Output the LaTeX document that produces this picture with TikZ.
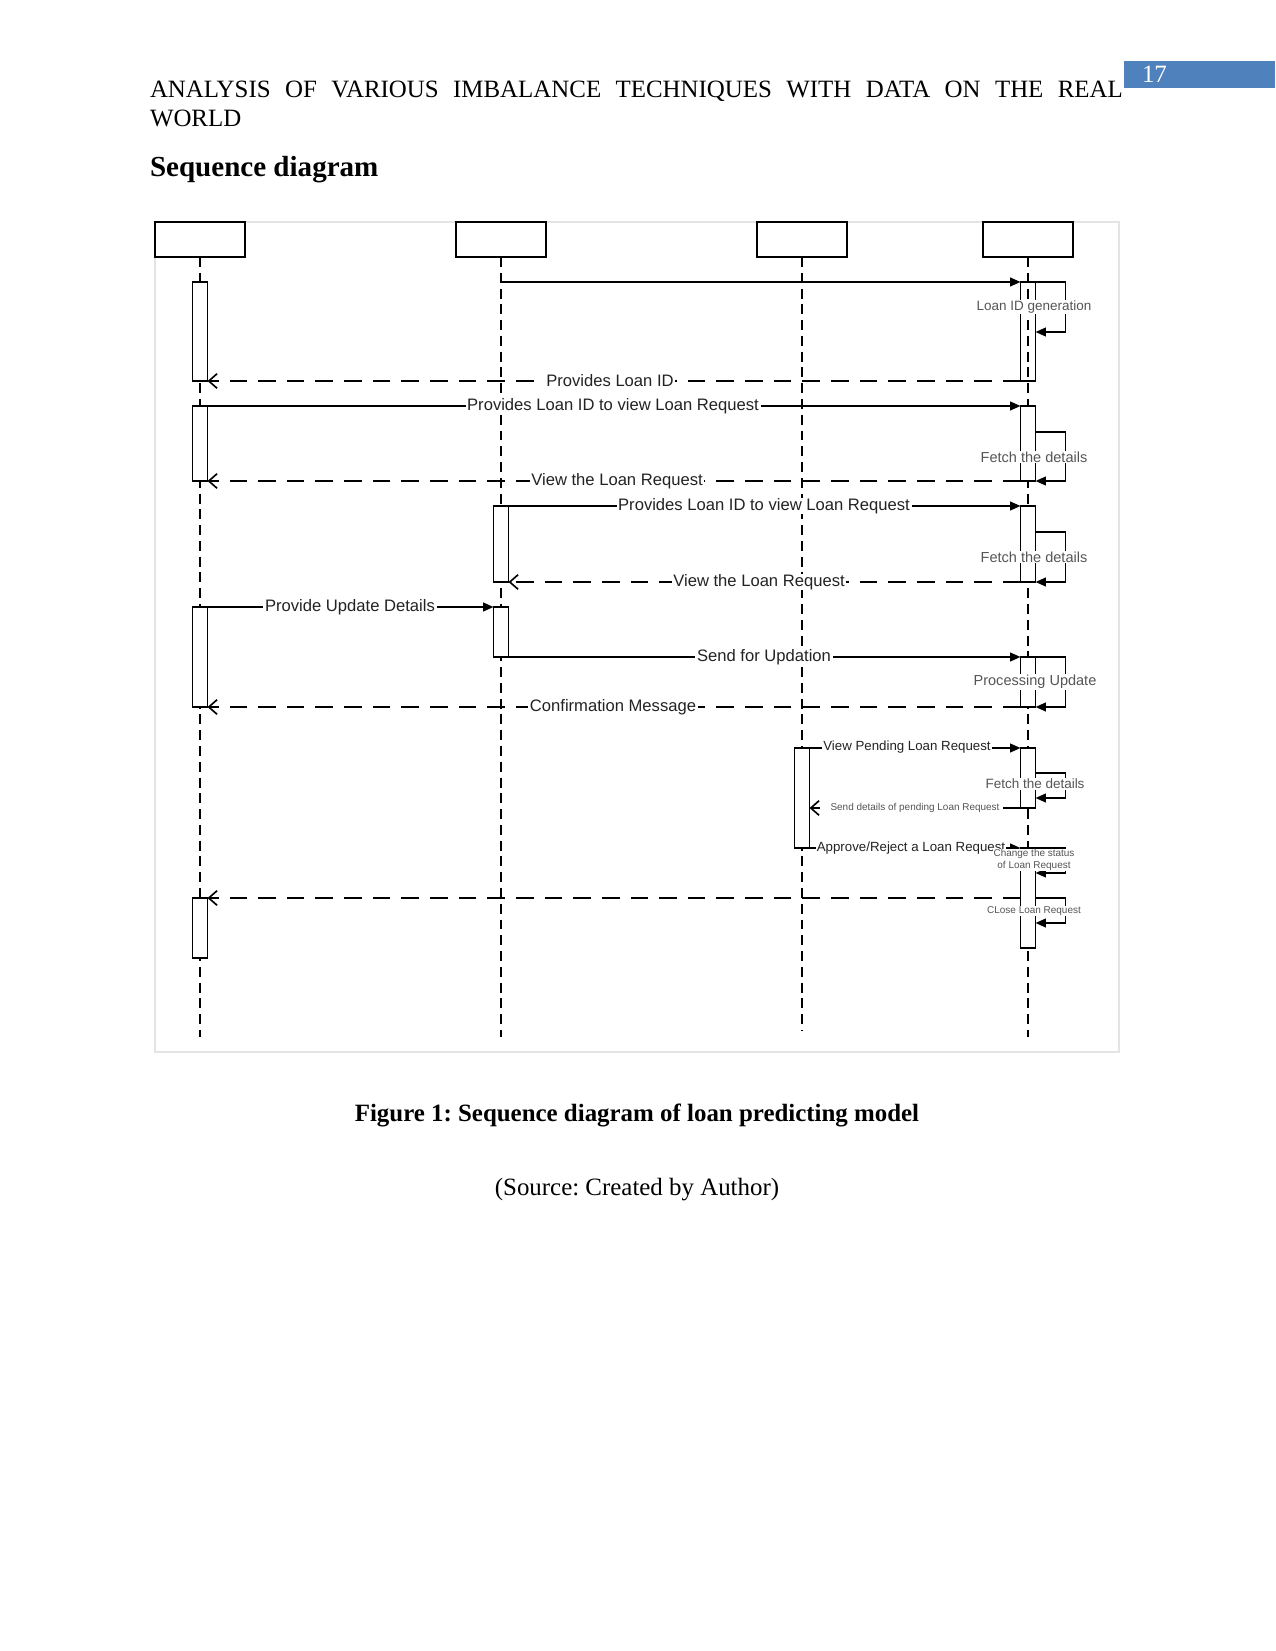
\documentclass[tikz,border=0pt]{standalone}
\usepackage{fontspec}
\setmainfont{Liberation Serif}
\newfontfamily\arialf{Liberation Sans}
\usetikzlibrary{arrows.meta}
\frenchspacing
\newlength\upx
\setlength\upx{0.4818pt}
\definecolor{pagebl}{RGB}{79,129,189}
\definecolor{framegray}{RGB}{228,228,228}
\definecolor{lblgray}{RGB}{35,35,35}
\definecolor{selfgray}{RGB}{85,85,85}
\tikzset{
  headbox/.style={draw, line width=0.9pt, minimum width=90*\upx, minimum height=35*\upx, inner sep=0pt, outer sep=0pt},
  act/.style={draw, fill=white, line width=0.9pt, minimum width=15*\upx, inner sep=0pt, outer sep=0pt},
  life/.style={line width=0.8pt, dash pattern=on 4.8pt off 2.8pt},
  msg/.style={line width=0.9pt, -{Triangle[length=5pt,width=4.2pt]}},
  selfmsg/.style={line width=0.9pt, -{Triangle[length=5pt,width=4.2pt]}},
  ret/.style={line width=0.9pt, dash pattern=on 8.5pt off 5.3pt, -{Straight Barb[length=4pt,width=7pt,line width=0.8pt]}},
  lbl/.style={fill=white, inner xsep=0.8pt, inner ysep=0.3pt, text=lblgray, font=\arialf\fontsize{8}{9}\selectfont},
  smalllbl/.style={fill=white, inner xsep=0.6pt, inner ysep=0.3pt, text=lblgray, font=\arialf\fontsize{6.4}{7}\selectfont},
  tinylbl/.style={fill=white, inner xsep=0.5pt, inner ysep=0.2pt, text=selfgray, font=\arialf\fontsize{4.8}{5.4}\selectfont, align=center},
  selflbl/.style={fill=white, inner sep=0.5pt, text=selfgray, font=\arialf\fontsize{7}{8}\selectfont, align=center},
  plain/.style={inner sep=0pt, outer sep=0pt}
}
\newcommand\actbox[4]{\node[act, anchor=north, minimum height={(#4-#3)*\upx}] (#1) at (#2,#3) {};}
\begin{document}
\begin{tikzpicture}[x=0.4818pt,y=-0.4818pt]
\useasboundingbox (0,0) rectangle (1275,1651);

% page header
\node[fill=pagebl, anchor=north west, minimum width=151*\upx, minimum height=27*\upx, inner sep=0pt] (pgbox) at (1124,61) {};
\node[plain, anchor=base west, text=white] (pgnum) at (1142,83) {\fontsize{12}{14}\selectfont 17};
\node[plain, anchor=base west] (hdr1) at (150,98) {\fontsize{12}{14}\selectfont\makebox[973\upx][s]{ANALYSIS OF VARIOUS IMBALANCE TECHNIQUES WITH DATA ON THE REAL}};
\node[plain, anchor=base west] (hdr2) at (150,127) {\fontsize{12}{14}\selectfont WORLD};
\node[plain, anchor=base west] (ttl) at (150,177) {\fontsize{14}{16}\selectfont\bfseries Sequence diagram};

% frame
\draw[framegray, line width=0.6pt] (155,222) rectangle (1119,1052);

% lifeline heads
\node[headbox] (h1) at (200,239.5) {};
\node[headbox] (h2) at (501,239.5) {};
\node[headbox] (h3) at (802,239.5) {};
\node[headbox] (h4) at (1028,239.5) {};
\coordinate (e1) at (200,1037);
\coordinate (e2) at (501,1037);
\coordinate (e3) at (802,1030);
\coordinate (e4) at (1028,1037);
\draw[life] (h1.south) -- (e1);
\draw[life] (h2.south) -- (e2);
\draw[life] (h3.south) -- (e3);
\draw[life] (h4.south) -- (e4);

% activations
\actbox{a1}{200}{282}{381}
\actbox{a2}{200}{406}{481}
\actbox{a3}{501}{506}{582}
\actbox{a4}{200}{607}{707}
\actbox{a5}{501}{607}{657}
\actbox{a6}{802}{748}{848}
\actbox{a7}{200}{898}{958}
\node[act, fill=none, anchor=north, minimum height={99*\upx}] (b1) at (1028,282) {};
\actbox{b2}{1028}{406}{481}
\actbox{b3}{1028}{506}{582}
\actbox{b4}{1028}{657}{707}
\actbox{b5}{1028}{748}{808}
\actbox{b6}{1028}{848}{948}

% messages
\draw[msg] (h2.south |- b1.north) -- (b1.north west);
\draw[selfmsg] (b1.north east) -- ++(30,0) -- ++(0,50) -- ++(-30,0);
\draw[ret] (b1.south west) -- (a1.south east);

\draw[msg] (a2.north east) -- (b2.north west);
\draw[selfmsg] (b2.north east) ++(0,26) -- ++(30,0) -- ++(0,49) -- ++(-30,0);
\draw[ret] (b2.south west) -- (a2.south east);

\draw[msg] (a3.north east) -- (b3.north west);
\draw[selfmsg] (b3.north east) ++(0,26) -- ++(30,0) -- ++(0,50) -- ++(-30,0);
\draw[ret] (b3.south west) -- (a3.south east);

\draw[msg] (a4.north east) -- (a5.north west);
\draw[msg] (a5.south east) -- (b4.north west);
\draw[selfmsg] (b4.north east) -- ++(30,0) -- ++(0,50) -- ++(-30,0);
\draw[ret] (b4.south west) -- (a4.south east);

\draw[msg] (a6.north east) -- (b5.north west);
\draw[selfmsg] (b5.north east) ++(0,25) -- ++(30,0) -- ++(0,25) -- ++(-30,0);
\draw[ret] (b5.south west) -- (a6.east |- b5.south);

\draw[msg] (a6.south east) -- (b6.north west);
\draw[selfmsg] (b6.north east) -- ++(30,0) -- ++(0,25) -- ++(-30,0);
\draw[selfmsg] (b6.north east) ++(0,50) -- ++(30,0) -- ++(0,25) -- ++(-30,0);
\draw[ret] (b6.west |- a7.north) -- (a7.north east);

% message labels
\node[lbl] (m1) at (610,381) {Provides Loan ID};
\node[lbl] (m2) at (613,406) {Provides Loan ID to view Loan Request};
\node[lbl] (m3) at (617,481) {View the Loan Request};
\node[lbl] (m4) at (764,506) {Provides Loan ID to view Loan Request};
\node[lbl] (m5) at (759,582) {View the Loan Request};
\node[lbl] (m6) at (350,607) {Provide Update Details};
\node[lbl] (m7) at (764,657) {Send for Updation};
\node[lbl] (m8) at (613,707) {Confirmation Message};
\node[smalllbl] (m9) at (907,747) {View Pending Loan Request};
\node[tinylbl] (m10) at (915,808) {Send details of pending Loan Request};
\node[smalllbl] (m11) at (911,848) {Approve/Reject a Loan Request};

% self-call labels
\node[selflbl, font=\arialf\fontsize{6.5}{7.5}\selectfont] (s1) at (1034,307) {Loan ID generation};
\node[selflbl] (s2) at (1034,457) {Fetch the details};
\node[selflbl] (s3) at (1034,557) {Fetch the details};
\node[selflbl] (s4) at (1035,682) {Processing Update};
\node[selflbl, font=\arialf\fontsize{6.5}{7.5}\selectfont] (s5) at (1035,784) {Fetch the details};
\node[tinylbl] (s6) at (1034,860) {Change the status\\of Loan Request};
\node[tinylbl] (s7) at (1034,911) {CLose Loan Request};

% caption
\node[plain, anchor=base] (cap) at (637,1121) {\fontsize{12}{14}\selectfont\bfseries Figure 1: Sequence diagram of loan predicting model};
\node[plain, anchor=base] (src) at (637,1195) {\fontsize{12}{14}\selectfont (Source: Created by Author)};
\end{tikzpicture}
\end{document}
